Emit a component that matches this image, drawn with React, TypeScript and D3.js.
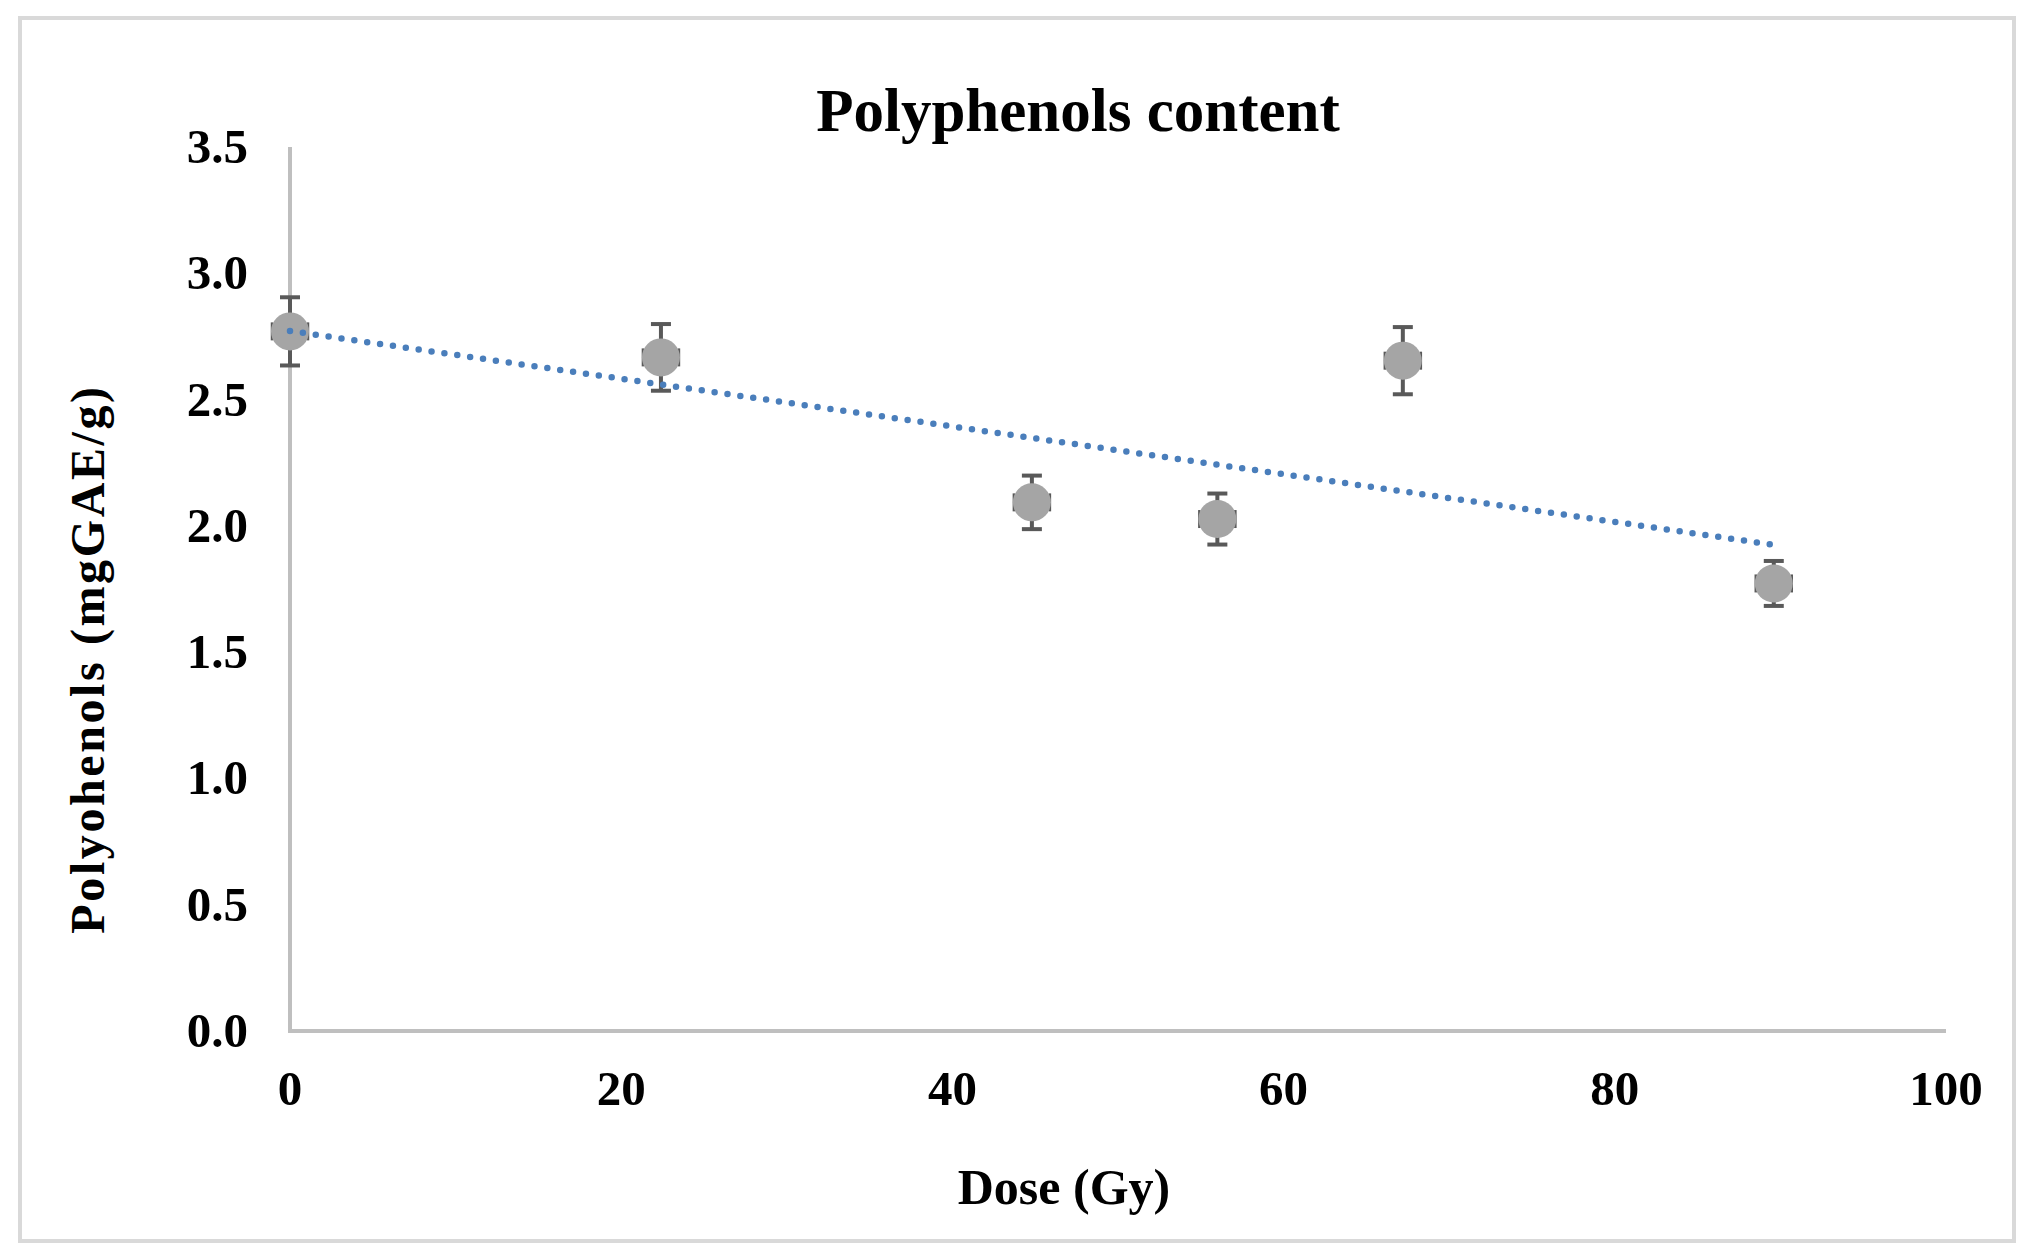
import React from "react";
import * as d3 from "d3";

const doses = [0, 22.4, 44.8, 56, 67.2, 89.6];
const polyphenols = [2.77, 2.667, 2.093, 2.027, 2.654, 1.772];
const errors = [0.135, 0.132, 0.106, 0.101, 0.133, 0.089];
const xTicks = [0, 20, 40, 60, 80, 100];
const yTicks = [0, 0.5, 1.0, 1.5, 2.0, 2.5, 3.0, 3.5];
const title = "Polyphenols content";
const xLabel = "Dose (Gy)";
const yLabel = "Polyohenols (mgGAE/g)";

const W = 2044;
const H = 1255;
const FONT = "'Liberation Serif', 'Times New Roman', serif";

export default function App() {
  const x = d3.scaleLinear().domain([0, 100]).range([290, 1946]);
  const y = d3.scaleLinear().domain([0, 3.5]).range([1031, 147]);

  // linear trendline (least squares)
  const mx = d3.mean(doses) as number;
  const my = d3.mean(polyphenols) as number;
  let sxy = 0;
  let sxx = 0;
  doses.forEach((d, i) => {
    sxy += (d - mx) * (polyphenols[i] - my);
    sxx += (d - mx) * (d - mx);
  });
  const slope = sxy / sxx;
  const intercept = my - slope * mx;
  const xMin = d3.min(doses) as number;
  const xMax = d3.max(doses) as number;
  const trend = d3.line<number>()
    .x((d) => x(d))
    .y((d) => y(intercept + slope * d))([xMin, xMax]);

  const r = 19;
  const cap = 10;

  return (
    <svg
      width={W}
      height={H}
      style={{ position: "absolute", left: 0, top: 0, background: "#fff" }}
      fontFamily={FONT}
    >
      <rect x={0} y={0} width={W} height={H} fill="#fff" />
      <rect x={20} y={18} width={1994} height={1223} fill="none" stroke="#d9d9d9" strokeWidth={4} />

      {/* axes */}
      <line x1={x(0)} x2={x(0)} y1={y(3.5)} y2={y(0)} stroke="#bfbfbf" strokeWidth={4} />
      <line x1={x(0) - 2} x2={x(100)} y1={y(0)} y2={y(0)} stroke="#bfbfbf" strokeWidth={4} />

      {/* y tick labels */}
      {yTicks.map((t) => (
        <text
          key={"y" + t}
          x={248}
          y={y(t) + 16}
          textAnchor="end"
          fontSize={49}
          fontWeight="bold"
          fill="#000"
        >
          {t.toFixed(1)}
        </text>
      ))}

      {/* x tick labels */}
      {xTicks.map((t) => (
        <text
          key={"x" + t}
          x={x(t)}
          y={1105}
          textAnchor="middle"
          fontSize={49}
          fontWeight="bold"
          fill="#000"
        >
          {t}
        </text>
      ))}

      {/* error bars */}
      {doses.map((d, i) => {
        const cx = x(d);
        const yt = y(polyphenols[i] + errors[i]);
        const yb = y(polyphenols[i] - errors[i]);
        const cy = y(polyphenols[i]);
        return (
          <g key={"e" + i} stroke="#595959" strokeWidth={4}>
            <line x1={cx} x2={cx} y1={yt} y2={yb} />
            <line x1={cx - cap} x2={cx + cap} y1={yt} y2={yt} />
            <line x1={cx - cap} x2={cx + cap} y1={yb} y2={yb} />
            <line x1={cx - r + 1} x2={cx - r + 1} y1={cy - 9} y2={cy + 9} strokeWidth={2.5} />
            <line x1={cx + r - 1} x2={cx + r - 1} y1={cy - 9} y2={cy + 9} strokeWidth={2.5} />
          </g>
        );
      })}

      {/* markers */}
      {doses.map((d, i) => (
        <circle key={"c" + i} cx={x(d)} cy={y(polyphenols[i])} r={r} fill="#a5a5a5" />
      ))}

      {/* trendline */}
      <path
        d={trend || ""}
        fill="none"
        stroke="#4a7ebb"
        strokeWidth={6.5}
        strokeDasharray="0 13"
        strokeLinecap="round"
      />

      {/* title */}
      <text x={1078} y={131} textAnchor="middle" fontSize={61} fontWeight="bold" fill="#000">
        {title}
      </text>

      {/* x label */}
      <text x={1064} y={1204} textAnchor="middle" fontSize={50} fontWeight="bold" fill="#000">
        {xLabel}
      </text>

      {/* y label */}
      <text
        transform={`translate(104, 659) rotate(-90)`}
        textAnchor="middle"
        fontSize={48}
        fontWeight="bold"
        letterSpacing={2.6}
        fill="#000"
      >
        {yLabel}
      </text>
    </svg>
  );
}
